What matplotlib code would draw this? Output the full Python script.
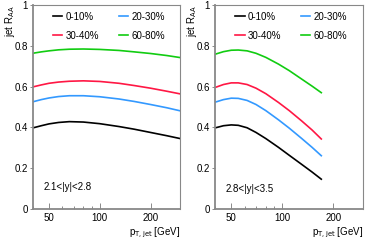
import numpy as np
import matplotlib
matplotlib.use("Agg")
from matplotlib import pyplot as plt
import matplotlib.ticker as mtick

# left panel, 2.1<|y|<2.8
pt_left = [40, 45, 50, 57, 66, 80, 100, 130, 160, 200, 250, 300]
raa_left = {
    "0-10%":  [0.397, 0.408, 0.417, 0.424, 0.428, 0.426, 0.418, 0.404, 0.391, 0.375, 0.359, 0.345],
    "20-30%": [0.525, 0.536, 0.544, 0.551, 0.555, 0.555, 0.550, 0.539, 0.527, 0.512, 0.496, 0.481],
    "30-40%": [0.598, 0.608, 0.616, 0.622, 0.626, 0.628, 0.625, 0.616, 0.605, 0.592, 0.577, 0.564],
    "60-80%": [0.763, 0.770, 0.775, 0.780, 0.783, 0.784, 0.782, 0.777, 0.770, 0.762, 0.752, 0.742],
}

# right panel, 2.8<|y|<3.5
pt_right = [40, 45, 50, 55, 62, 70, 80, 95, 110, 130, 150, 170]
raa_right = {
    "0-10%":  [0.397, 0.408, 0.412, 0.410, 0.398, 0.375, 0.345, 0.302, 0.263, 0.219, 0.181, 0.146],
    "20-30%": [0.523, 0.536, 0.543, 0.542, 0.532, 0.512, 0.482, 0.437, 0.396, 0.346, 0.302, 0.261],
    "30-40%": [0.595, 0.610, 0.618, 0.618, 0.610, 0.592, 0.565, 0.522, 0.482, 0.432, 0.387, 0.343],
    "60-80%": [0.758, 0.771, 0.778, 0.779, 0.775, 0.763, 0.743, 0.710, 0.678, 0.637, 0.602, 0.570],
}

# legend fills row by row: 0-10, 20-30 / 30-40, 60-80
labels = ["0-10%", "30-40%", "20-30%", "60-80%"]
colors = {"0-10%": "black", "20-30%": "#3399ff", "30-40%": "#ff1744", "60-80%": "#11cc11"}
ranges = ["2.1<|y|<2.8", "2.8<|y|<3.5"]

plt.rcParams["font.family"] = "Liberation Sans"
plt.rcParams["font.size"] = 7

fig = plt.figure(figsize=(3.66, 2.47), dpi=100)
ax1 = fig.add_axes([0.0893, 0.154, 0.403, 0.826])
ax2 = fig.add_axes([0.587, 0.154, 0.405, 0.826])

for ax, pt, raa, rng, ty in [(ax1, pt_left, raa_left, ranges[0], 0.108),
                             (ax2, pt_right, raa_right, ranges[1], 0.098)]:
    for lab in labels:
        ax.plot(pt, raa[lab], color=colors[lab], lw=1.2, label=lab)
    ax.set_xscale("log")
    ax.set_xlim(40, 300)
    ax.set_ylim(0, 1)
    ax.xaxis.set_major_locator(mtick.FixedLocator([50, 100, 200]))
    ax.xaxis.set_minor_locator(mtick.FixedLocator([40, 60, 70, 80, 90, 300]))
    ax.xaxis.set_major_formatter(mtick.FixedFormatter(["50", "100", "200"]))
    ax.xaxis.set_minor_formatter(mtick.NullFormatter())
    ax.set_yticks([0, 0.2, 0.4, 0.6, 0.8, 1.0])
    ax.set_yticklabels(["0", "0.2", "0.4", "0.6", "0.8", "1"])
    ax.tick_params(axis="x", which="major", direction="in", length=4, width=0.6, colors="#777777",
                   labelcolor="black", pad=3)
    ax.tick_params(axis="x", which="minor", direction="in", length=2.5, width=0.6, colors="#777777")
    ax.tick_params(axis="y", direction="out", length=2.5, width=0.6, colors="#777777",
                   labelcolor="black", pad=1)
    for s in ax.spines.values():
        s.set_color("#888888")
        s.set_linewidth(0.8)
    ax.spines["left"].set_linewidth(1.3)
    ax.spines["bottom"].set_linewidth(1.3)
    ax.text(0.075, ty, rng, transform=ax.transAxes, fontsize=7, va="center")
    ax.set_ylabel(r"jet R$_{\mathrm{AA}}$", fontsize=7, ha="right", va="center")
    ax.yaxis.set_label_coords(-0.155, 1.0)
    ax.set_xlabel(r"p$_{\mathrm{T,jet}}$ [GeV]", fontsize=7, loc="right", labelpad=2)
    ax.legend(loc="upper left", bbox_to_anchor=(0.08, 1.01), ncol=2, frameon=False, fontsize=7,
              handlelength=0.95, handletextpad=0.35, columnspacing=2.0, labelspacing=0.95)

fig.savefig("out.png", dpi=100)
